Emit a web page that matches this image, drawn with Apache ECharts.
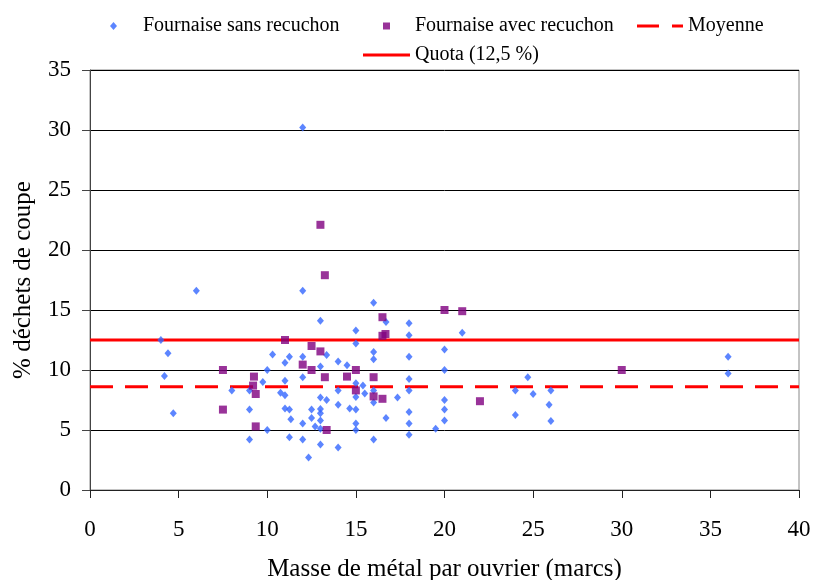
<!DOCTYPE html>
<html>
<head>
<meta charset="utf-8">
<script src="https://cdn.jsdelivr.net/npm/echarts@6/dist/echarts.min.js"></script>
<style>
html,body{margin:0;padding:0;background:#fff;}
#chart{width:814px;height:580px;}
</style>
</head>
<body>
<div id="chart"></div>
<script>
// Fournaise sans recuchon (blue diamonds)
const sansX = [12.0, 6.0, 12.0, 16.0, 4.0, 4.4, 4.2, 4.7, 8.0, 9.0, 9.75, 10.0, 10.3, 10.75, 9.0, 10.0, 9.0,
  16.7, 18.0, 18.0, 13.0, 13.35, 15.0, 15.0, 11.25, 11.0, 12.0, 13.0, 12.0, 14.0, 14.5, 16.0, 16.0, 18.0, 18.0,
  11.0, 11.0, 13.0, 13.35, 14.0, 15.0, 15.4, 15.0, 15.5, 16.0, 16.0, 17.35, 18.0,
  11.0, 11.25, 12.5, 13.0, 13.0, 14.0, 14.65, 15.0, 11.33, 12.5, 13.0, 12.0, 12.7, 13.0, 15.0, 15.0, 16.7,
  18.0, 18.0, 18.0, 11.25, 12.0, 13.0, 14.0, 16.0, 12.33,
  21.0, 20.0, 20.0, 20.0, 20.0, 20.0, 19.5, 24.0, 24.0, 24.7, 25.0, 25.9, 26.0, 26.0, 36.0, 36.0];
const sansY = [30.2, 16.6, 16.6, 15.6, 12.5, 11.4, 9.5, 6.4, 8.3, 8.3, 9.0, 10.0, 11.3, 8.1, 6.7, 5.0, 4.2,
  14.0, 13.9, 12.9, 14.1, 11.25, 13.3, 12.2, 11.1, 10.6, 11.1, 10.3, 9.4, 10.7, 10.4, 11.5, 10.9, 11.1, 9.25,
  9.1, 7.9, 7.7, 7.5, 8.3, 8.9, 8.7, 7.75, 8.05, 8.3, 7.3, 7.7, 8.3,
  6.8, 6.7, 6.7, 6.75, 6.4, 7.1, 6.8, 6.7, 5.9, 6.0, 5.8, 5.55, 5.3, 5.1, 5.55, 5.0, 6.0,
  6.5, 5.55, 4.6, 4.4, 4.2, 3.8, 3.55, 4.2, 2.7,
  13.1, 11.7, 10.0, 7.5, 6.7, 5.8, 5.1, 8.3, 6.25, 9.4, 8.0, 7.1, 8.3, 5.75, 11.1, 9.7];

// Fournaise avec recuchon (purple squares)
const avecX = [13.0, 13.25, 7.5, 7.5, 9.25, 9.2, 9.35, 9.35, 16.5, 16.67, 16.5, 11.0, 12.5, 13.0, 12.0, 12.5,
  13.25, 15.0, 14.5, 16.0, 15.0, 16.0, 16.5, 13.35, 20.0, 21.0, 22.0, 30.0];
const avecY = [22.1, 17.9, 10.0, 6.7, 9.45, 8.7, 8.0, 5.3, 14.4, 13.0, 12.85, 12.5, 12.0, 11.55, 10.45, 10.0,
  9.4, 10.0, 9.45, 9.4, 8.3, 7.8, 7.6, 5.0, 15.0, 14.9, 7.4, 10.0];

const moyenne = 8.6;
const quota = 12.5;
const xRange = [0, 40];

const names = ['Fournaise sans recuchon', 'Fournaise avec recuchon', 'Moyenne', 'Quota (12,5 %)'];
const xTitle = 'Masse de métal par ouvrier (marcs)';
const yTitle = '% déchets de coupe';

const FONT = "'Liberation Serif', 'Times New Roman', serif";
const zip = (xs, ys) => xs.map((x, i) => [x, ys[i]]);

const chart = echarts.init(document.getElementById('chart'), null, {renderer: 'canvas'});
const legendText = (padLeft) => ({fontFamily: FONT, fontSize: 20, color: '#000', padding: [0, 0, 0, padLeft]});
const option = {
  animation: false,
  backgroundColor: '#fff',
  grid: {left: 90, right: 15, top: 70, bottom: 90, show: true, borderColor: '#888', borderWidth: 1,
    containLabel: false, outerBoundsMode: 'none'},
  legend: [
    {data: [{name: names[0], icon: 'diamond'}], left: 110, top: 16, padding: 0, itemWidth: 7, itemHeight: 8,
      textStyle: legendText(21), selectedMode: false},
    {data: [{name: names[1], icon: 'rect'}], left: 383, top: 16, padding: 0, itemWidth: 7, itemHeight: 7,
      textStyle: legendText(20), selectedMode: false},
    {data: [{name: names[2], icon: 'path://M0,0H22V3H0Z M35,0H46V3H35Z'}], left: 637, top: 16, padding: 0,
      itemWidth: 46, itemHeight: 3, textStyle: legendText(0), selectedMode: false},
    {data: [{name: names[3], icon: 'rect'}], left: 363, top: 45, padding: 0, itemWidth: 47, itemHeight: 3,
      textStyle: legendText(0), selectedMode: false}
  ],
  xAxis: {
    type: 'value', min: xRange[0], max: xRange[1], interval: 5,
    name: xTitle, nameLocation: 'middle', nameGap: 67,
    nameTextStyle: {fontFamily: FONT, fontSize: 25, color: '#000'},
    axisLine: {show: true, lineStyle: {color: '#222', width: 1}},
    axisTick: {show: true, length: 8, lineStyle: {color: '#222'}},
    axisLabel: {fontFamily: FONT, fontSize: 23, color: '#000', margin: 28},
    splitLine: {show: false}
  },
  yAxis: {
    type: 'value', min: 0, max: 35, interval: 5,
    name: yTitle, nameLocation: 'middle', nameGap: 54,
    nameTextStyle: {fontFamily: FONT, fontSize: 25, color: '#000'},
    axisLine: {show: true, lineStyle: {color: '#444', width: 1}},
    axisTick: {show: true, length: 8, lineStyle: {color: '#444'}},
    axisLabel: {fontFamily: FONT, fontSize: 23, color: '#000', margin: 19},
    splitLine: {show: true, lineStyle: {color: '#000', width: 1}}
  },
  series: [
    {
      name: names[2], type: 'line', data: [[xRange[0], moyenne], [xRange[1], moyenne]],
      symbol: 'none', silent: true, z: 2,
      lineStyle: {color: '#ff0000', width: 3, type: [23, 12]}, itemStyle: {color: '#ff0000'}
    },
    {
      name: names[3], type: 'line', data: [[xRange[0], quota], [xRange[1], quota]],
      symbol: 'none', silent: true, z: 2,
      lineStyle: {color: '#ff0000', width: 3, type: 'solid'}, itemStyle: {color: '#ff0000'}
    },
    {
      name: names[0], type: 'scatter', data: zip(sansX, sansY),
      symbol: 'diamond', symbolSize: [7, 8], z: 3,
      itemStyle: {color: '#3366ff'}
    },
    {
      name: names[1], type: 'scatter', data: zip(avecX, avecY),
      symbol: 'rect', symbolSize: 8, z: 4,
      itemStyle: {color: '#800080'}
    }
  ]
};
chart.setOption(option);
</script>
</body>
</html>
